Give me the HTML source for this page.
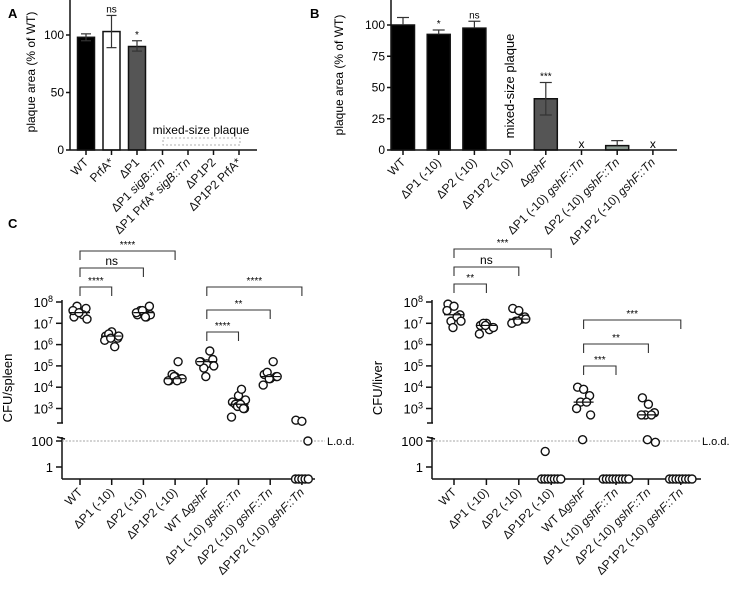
<!DOCTYPE html>
<html><head><meta charset="utf-8"><style>
body{margin:0;background:#fff}
svg{display:block;font-family:"Liberation Sans",Arial,sans-serif}
</style></head><body>
<svg id="fig" width="732" height="594" viewBox="0 0 732 594"></svg>
<script>
// Panel A data
const aCats=["WT","PrfA*","ΔP1","ΔP1 sigB::Tn","ΔP1 PrfA* sigB::Tn","ΔP1P2","ΔP1P2 PrfA*"];
const aVals=[98,103,90,null,null,null,null];
const aErrLo=[95,89,86];
const aErrHi=[101,117,95];
const aSig=["","ns","*"];
const aTicks=[0,50,100];
// Panel B data
const bCats=["WT","ΔP1 (-10)","ΔP2 (-10)","ΔP1P2 (-10)","ΔgshF","ΔP1 (-10) gshF::Tn","ΔP2 (-10) gshF::Tn","ΔP1P2 (-10) gshF::Tn"];
const bVals=[100,92.5,97.5,null,41,0,3.5,0];
const bErrHi=[106,96,103,null,54,null,7.5,null];
const bErrLo=[100,92.5,97.5,null,28,null,3.5,null];
const bSig=["","*","ns","","***","x","","x"];
const bTicks=[0,25,50,75,100];
// Panel C data (log10 CFU; null = below detection)
const cCats=["WT","ΔP1 (-10)","ΔP2 (-10)","ΔP1P2 (-10)","WT ΔgshF","ΔP1 (-10) gshF::Tn","ΔP2 (-10) gshF::Tn","ΔP1P2 (-10) gshF::Tn"];
const spleen=[
 [7.3,7.5,7.7,7.8,7.4,7.6,7.2,7.5],
 [6.4,6.6,6.3,6.5,5.9,6.2,6.4,6.3],
 [7.4,7.5,7.8,7.6,7.3,7.5,7.4,7.6,7.3],
 [4.3,4.5,4.4,4.6,5.2,4.3,4.4,4.5,4.3],
 [5.2,5.1,5.3,4.9,5.7,5.2,5.0,4.5],
 [3.3,3.6,3.0,3.2,3.9,2.6,3.4,3.1,3.2,3.0],
 [4.6,4.4,4.5,4.7,5.2,4.1,4.5,4.4],
 [2.45,2.4,2.0,null,null,null,null,null]];
const liver=[
 [7.9,7.8,7.4,7.1,7.3,7.6,7.1,6.8],
 [6.9,7.0,6.8,7.0,6.7,6.5,6.8,6.9],
 [7.7,7.6,7.3,7.1,7.2,7.0,7.2,7.1],
 [1.2,null,null,null,null,null,null,null],
 [4.0,3.9,3.6,3.3,3.3,3.0,2.7,2.1],
 [null,null,null,null,null,null,null,null,null],
 [3.5,3.2,2.8,2.7,2.7,2.7,1.9,2.1],
 [null,null,null,null,null,null,null,null]];
const spleenBr=[[0,3,"****",251],[0,2,"ns",268],[0,1,"****",287],[4,7,"****",287],[4,6,"**",310],[4,5,"****",332]];
const liverBr=[[0,3,"***",249],[0,2,"ns",267],[0,1,"**",284],[4,7,"***",320],[4,6,"**",344],[4,5,"***",366]];

const NS="http://www.w3.org/2000/svg";
const svg=document.getElementById('fig');
function el(tag,at,parent,text){const e=document.createElementNS(NS,tag);for(const k in at)e.setAttribute(k,at[k]);if(text!==undefined)e.textContent=text;(parent||svg).appendChild(e);return e;}
function line(x1,y1,x2,y2,w,extra,p){return el('line',Object.assign({x1,y1,x2,y2,stroke:'#111','stroke-width':w||1.5},extra||{}),p);}
function rotLabel(g,x,y,str,fs){
 const t=el('text',{x:0,y:0,'font-size':fs,'text-anchor':'end',transform:`translate(${x+3},${y+8}) rotate(-45)`,fill:'#111'},g);
 const parts=str.split(/(sigB::Tn|gshF::Tn|gshF)/);
 parts.forEach(p=>{if(!p)return;el('tspan',p.match(/sig|gsh/)?{'font-style':'italic'}:{},t,p);});
 
 return t;}

[["A",8,18],["B",310,18],["C",8,228]].forEach(([l,x,y])=>{const t=el('text',{x,y,'font-size':13,'font-weight':'bold'},svg,l);});

// ---------- Panel A ----------
(function(){
 const g=el('g',{});
 const ax=70,y0=150,k=1.15,x0=86,dx=25.5,bw=17;
 const Y=v=>y0-v*k, X=i=>x0+i*dx;
 const fills=["#000","#fff","#555"];
 aVals.forEach((v,i)=>{if(v==null)return;
  const r=el('rect',{x:X(i)-bw/2,y:Y(v),width:bw,height:y0-Y(v),fill:fills[i],stroke:'#111','stroke-width':1.5},g);
  
  line(X(i),Y(aErrLo[i]),X(i),Y(aErrHi[i]),1.2,{stroke:'#333'},g);
  line(X(i)-5,Y(aErrHi[i]),X(i)+5,Y(aErrHi[i]),1.2,{stroke:'#333'},g);
  line(X(i)-5,Y(aErrLo[i]),X(i)+5,Y(aErrLo[i]),1.2,{stroke:'#333'},g);
  if(aSig[i]){const t=el('text',{x:X(i),y:Y(aErrHi[i])-3,'font-size':10,'text-anchor':'middle'},g,aSig[i]);}
 });
 line(ax,0,ax,y0,1.5,{},g);line(ax,y0,257,y0,1.5,{},g);
 aTicks.forEach(t=>{line(ax-4,Y(t),ax,Y(t),1.5,{},g);const tx=el('text',{x:ax-6,y:Y(t)+4,'font-size':12,'text-anchor':'end'},g,t);});
 aCats.forEach((c,i)=>{line(X(i),y0,X(i),y0+5,1.5,{},g);rotLabel(g,X(i),y0+5,c,12);});
 const yl=el('text',{x:0,y:0,'font-size':12,'text-anchor':'middle',transform:'translate(35,72) rotate(-90)'},g,'plaque area (% of WT)');
 
 el('rect',{x:163,y:138,width:77,height:7,fill:'none',stroke:'#999','stroke-width':0.8,'stroke-dasharray':'2,2'},g);
 const m=el('text',{x:201,y:134,'font-size':12,'text-anchor':'middle'},g,'mixed-size plaque');
})();

// ---------- Panel B ----------
(function(){
 const g=el('g',{});
 const ax=391,y0=150,k=1.25,x0=403,dx=35.7,bw=23;
 const Y=v=>y0-v*k, X=i=>x0+i*dx;
 const fills=["#000","#000","#000","","#555","","#8c9a92",""];
 bVals.forEach((v,i)=>{
  if(v!=null&&v>0){const r=el('rect',{x:X(i)-bw/2,y:Y(v),width:bw,height:y0-Y(v),fill:fills[i],stroke:'#111','stroke-width':1.5},g);
   }
  if(bErrHi[i]!=null){line(X(i),Y(bErrLo[i]),X(i),Y(bErrHi[i]),1.2,{stroke:'#333'},g);line(X(i)-6,Y(bErrHi[i]),X(i)+6,Y(bErrHi[i]),1.2,{stroke:'#333'},g);
   if(bErrLo[i]!=v)line(X(i)-6,Y(bErrLo[i]),X(i)+6,Y(bErrLo[i]),1.2,{stroke:'#333'},g);}
  if(bSig[i]){const yy=bSig[i]=='x'?y0-2:Y(bErrHi[i])-3;const t=el('text',{x:X(i),y:yy,'font-size':bSig[i]=='x'?12:10,'text-anchor':'middle'},g,bSig[i]);}
 });
 line(ax,0,ax,y0,1.5,{},g);line(ax,y0,677,y0,1.5,{},g);
 bTicks.forEach(t=>{line(ax-4,Y(t),ax,Y(t),1.5,{},g);const tx=el('text',{x:ax-6,y:Y(t)+4,'font-size':12,'text-anchor':'end'},g,t);});
 bCats.forEach((c,i)=>{line(X(i),y0,X(i),y0+5,1.5,{},g);rotLabel(g,X(i),y0+5,c,12);});
 const yl=el('text',{x:0,y:0,'font-size':12,'text-anchor':'middle',transform:'translate(343,75) rotate(-90)'},g,'plaque area (% of WT)');
 
 const m=el('text',{x:0,y:0,'font-size':13,'text-anchor':'middle',transform:'translate(514,86) rotate(-90)'},g,'mixed-size plaque');
})();

// ---------- Panel C ----------
const jit=[-6,0,6,-3,3,-7,7,-1,2,5];
function dotPlot(name,ax,x0,dx,xEnd,data,brs,ylab,lodEnd,lodX){
 const g=el('g',{});
 const y8=302,per=21.3,yAx=479;
 const X=i=>x0+i*dx;
 const Y=v=>{if(v==null)return yAx;if(v>=2.4)return y8+(8-v)*per;return 467-v*13;};
 line(ax,y8-2,ax,423,1.5,{},g);line(ax-5,423,ax+1,423,1.5,{},g);
 line(ax,437,ax,yAx,1.5,{},g);line(ax-5,437,ax+3,439,1.5,{},g);
 line(ax,yAx,xEnd,yAx,1.5,{},g);
 [8,7,6,5,4,3].forEach(p=>{const y=Y(p);line(ax-6,y,ax,y,1.5,{},g);
  const t=el('text',{x:ax-9,y:y+5,'font-size':13,'text-anchor':'end'},g);el('tspan',{},t,'10');el('tspan',{dy:-5,'font-size':9},t,String(p));
  });
 [[2,'100'],[0,'1']].forEach(([p,l])=>{const y=Y(p);line(ax-6,y,ax,y,1.5,{},g);const t=el('text',{x:ax-9,y:y+5,'font-size':13,'text-anchor':'end'},g,l);});
 const lod=line(ax,441,lodEnd,441,0.8,{stroke:'#888','stroke-dasharray':'2,1.5'},g);
 const lt=el('text',{x:lodX,y:445,'font-size':11},g,'L.o.d.');
 const yl=el('text',{x:0,y:0,'font-size':13,'text-anchor':'middle',transform:`translate(${ax-50},388) rotate(-90)`},g,ylab);
 
 cCats.forEach((c,i)=>{line(X(i),yAx,X(i),yAx+6,1.5,{},g);rotLabel(g,X(i),yAx+6,c,12);});
 data.forEach((arr,i)=>{
  const vals=arr.filter(v=>v!=null).sort((a,b)=>a-b);
  const nz=arr.filter(v=>v==null).length;
  let zi=0;
  arr.forEach((v,j)=>{const cx=v==null?X(i)+(zi++ - (nz-1)/2)*3.2:X(i)+jit[j%jit.length];
   const c=el('circle',{cx,cy:Y(v),r:4,fill:'#fff',stroke:'#111','stroke-width':1.4},g);
   });
  if(vals.length>=4){const md=vals[Math.floor(vals.length/2)];line(X(i)-10,Y(md),X(i)+10,Y(md),1.2,{},g);}
 });
 brs.forEach(([a,b,s,y])=>{
  const p=el('path',{d:`M${X(a)},${y+9}V${y}H${X(b)}V${y+9}`,fill:'none',stroke:'#333','stroke-width':1.1},g);
  
  const t=el('text',{x:(X(a)+X(b))/2,y:y-3,'font-size':s=='ns'?12:10,'text-anchor':'middle'},g,s);
  
 });
}
dotPlot('spleen-dot-plot',62,80,31.7,315,spleen,spleenBr,'CFU/spleen',325,327);
dotPlot('liver-dot-plot',432,454,32.4,701,liver,liverBr,'CFU/liver',700,702);
</script>
</body></html>
